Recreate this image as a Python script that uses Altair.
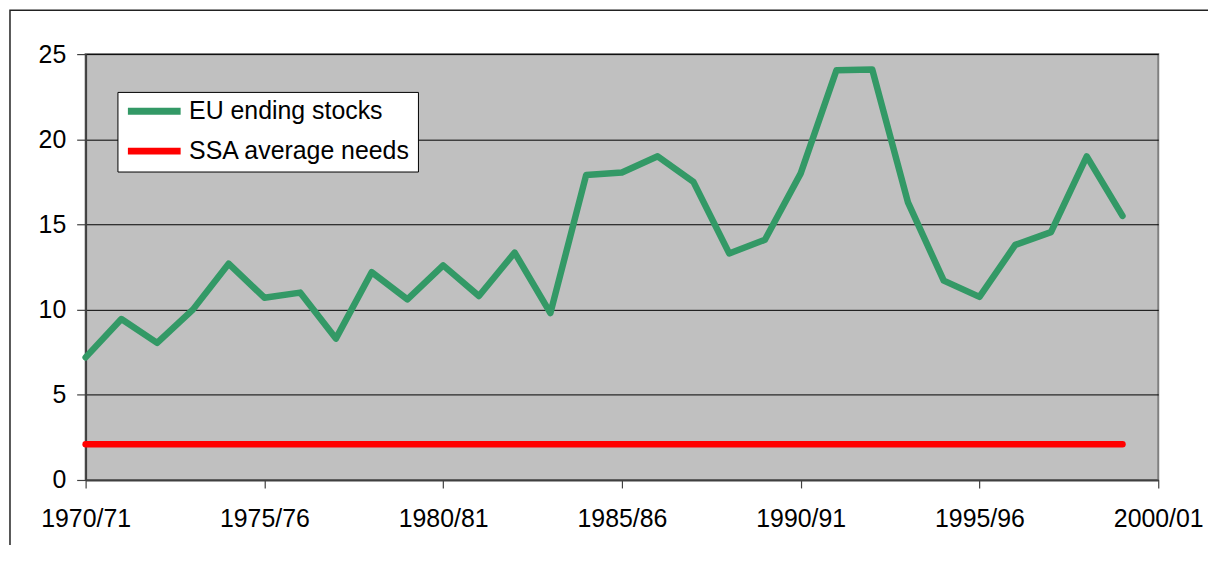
import altair as alt
import pandas as pd

years = list(range(1970, 2000))
eu_ending_stocks = [7.2, 9.45, 8.05, 10.0, 12.7, 10.7, 11.0, 8.3, 12.2, 10.6,
                    12.6, 10.8, 13.35, 9.8, 17.9, 18.05, 19.0, 17.5, 13.3, 14.1,
                    18.0, 24.05, 24.1, 16.3, 11.7, 10.75, 13.8, 14.55, 19.0, 15.5]
ssa_average_needs = [2.1, 2.1, 2.1, 2.1, 2.1, 2.1, 2.1, 2.1, 2.1, 2.1,
                     2.1, 2.1, 2.1, 2.1, 2.1, 2.1, 2.1, 2.1, 2.1, 2.1,
                     2.1, 2.1, 2.1, 2.1, 2.1, 2.1, 2.1, 2.1, 2.1, 2.1]
series_names = ["EU ending stocks", "SSA average needs"]
series_colors = ["#339966", "#FF0000"]
tick_years = [1970, 1975, 1980, 1985, 1990, 1995, 2000]
tick_labels = ["1970/71", "1975/76", "1980/81", "1985/86", "1990/91", "1995/96", "2000/01"]
y_ticks = [0, 5, 10, 15, 20, 25]

rows = []
for y, v in zip(years, eu_ending_stocks):
    rows.append({"year": y, "value": v, "series": series_names[0]})
for y, v in zip(years, ssa_average_needs):
    rows.append({"year": y, "value": v, "series": series_names[1]})
df = pd.DataFrame(rows)

label_expr = ""
for ty, tl in zip(tick_years, tick_labels):
    label_expr += f"datum.value == {ty} ? '{tl}' : "
label_expr += "''"

FONT = "Liberation Sans"

frame = alt.Chart(alt.Data(values=[{}])).mark_rect(
    fill="white", fillOpacity=0, stroke="#222222", strokeWidth=1.5
).encode(
    x=alt.value(-76), x2=alt.value(2000), y=alt.value(-44), y2=alt.value(2000)
)

lines = alt.Chart(df).mark_line(
    strokeWidth=6.5, strokeCap="round", strokeJoin="round"
).encode(
    x=alt.X("year:Q",
            scale=alt.Scale(domain=[1970, 2000], nice=False, zero=False),
            axis=alt.Axis(values=tick_years, labelExpr=label_expr, title=None,
                          grid=False, tickSize=8, labelPadding=19, labelFlush=False,
                          labelFontSize=25, labelFont=FONT, labelColor="black",
                          domainColor="#404040", domainWidth=2,
                          tickColor="#404040", tickWidth=1.2)),
    y=alt.Y("value:Q",
            scale=alt.Scale(domain=[0, 25], nice=False),
            axis=alt.Axis(values=y_ticks, title=None, grid=True,
                          gridColor="black", gridWidth=1, gridOpacity=1,
                          tickSize=9, labelPadding=11,
                          labelFontSize=25, labelFont=FONT, labelColor="black",
                          domainColor="#404040", domainWidth=2,
                          tickColor="#404040", tickWidth=1.2)),
    color=alt.Color("series:N",
                    scale=alt.Scale(domain=series_names, range=series_colors),
                    legend=alt.Legend(title=None, orient="none", legendX=32, legendY=38,
                                      fillColor="white", strokeColor="black",
                                      padding=7, labelFontSize=25, labelFont=FONT,
                                      labelColor="black", labelLimit=400,
                                      symbolType="stroke",
                                      symbolSize=2809, symbolStrokeWidth=7,
                                      clipHeight=25,
                                      rowPadding=14, labelOffset=5, cornerRadius=0)),
    order=alt.Order("year:Q"),
)

chart = alt.layer(frame, lines).properties(
    width=1078, height=428,
    autosize=alt.AutoSizeParams(type="none"),
    padding={"left": 78, "top": 45, "right": 50, "bottom": 64},
    background="white",
).configure_view(
    fill="#C0C0C0", stroke="#808080", strokeWidth=2
)

chart.save("out.html", embed_options={"renderer": "svg", "actions": False})
